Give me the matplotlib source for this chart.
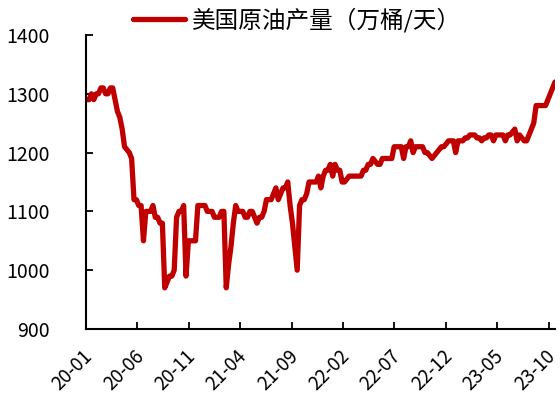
import numpy as np
import pandas as pd
import matplotlib
matplotlib.use("Agg")
import matplotlib.pyplot as plt
import matplotlib.dates as mdates
import matplotlib.transforms as mtransforms

plt.rcParams['font.family'] = ['Noto Sans CJK SC', 'DejaVu Sans']

# weekly US crude output, 10k bbl/day, Fridays from 2020-01-03
start = '2020-01-03'
output = [
    1290, 1290, 1300, 1290, 1300, 1300, 1310, 1310, 1300, 1300,
    1310, 1310, 1290, 1270, 1260, 1240, 1210, 1205, 1200, 1190,
    1120, 1120, 1110, 1110, 1050, 1100, 1100, 1100, 1110, 1090,
    1090, 1080, 1080, 970, 980, 990, 990, 1000, 1090, 1100,
    1100, 1110, 990, 1050, 1050, 1050, 1050, 1110, 1110, 1110,
    1110, 1100, 1100, 1100, 1090, 1090, 1090, 1100, 1100, 970,
    1010, 1040, 1080, 1110, 1100, 1100, 1100, 1090, 1090, 1100,
    1100, 1090, 1080, 1090, 1090, 1100, 1120, 1120, 1120, 1130,
    1140, 1120, 1130, 1140, 1140, 1150, 1110, 1080, 1040, 1000,
    1110, 1120, 1120, 1130, 1150, 1150, 1150, 1150, 1160, 1140,
    1160, 1170, 1170, 1180, 1160, 1180, 1170, 1170, 1150, 1150,
    1155, 1160, 1160, 1160, 1160, 1160, 1160, 1170, 1170, 1180,
    1180, 1190, 1185, 1180, 1180, 1190, 1190, 1190, 1190, 1190,
    1210, 1210, 1210, 1210, 1190, 1210, 1210, 1220, 1200, 1210,
    1210, 1210, 1210, 1200, 1200, 1195, 1190, 1195, 1200, 1205,
    1210, 1210, 1215, 1220, 1220, 1220, 1200, 1220, 1220, 1220,
    1225, 1225, 1230, 1230, 1230, 1225, 1225, 1220, 1225, 1225,
    1230, 1230, 1220, 1230, 1230, 1230, 1230, 1220, 1230, 1230,
    1235, 1240, 1220, 1230, 1225, 1220, 1220, 1230, 1240, 1250,
    1280, 1280, 1280, 1280, 1280, 1290, 1300, 1310, 1320,
]
label = '美国原油产量（万桶/天）'
yticks = [900, 1000, 1100, 1200, 1300, 1400]

dates = pd.date_range(start, periods=len(output), freq='7D')
xticks = pd.date_range('2020-01-01', '2023-10-01', freq='5MS')

fig = plt.figure(figsize=(5.6, 4.0), dpi=100)
ax = fig.add_axes([0.1536, 0.1775, 0.8375, 0.735])

ax.plot(dates, output, color='#C00000', lw=3.8, solid_joinstyle='round',
        solid_capstyle='round', label=label)

ax.set_ylim(900, 1400)
ax.set_yticks(yticks)
ax.set_xlim(pd.Timestamp('2020-01-01'), dates[-1])
ax.set_xticks(xticks)
ax.xaxis.set_major_formatter(mdates.DateFormatter('%y-%m'))

for s in ['top', 'right']:
    ax.spines[s].set_visible(False)
for s in ['left', 'bottom']:
    ax.spines[s].set_linewidth(1.5)
    ax.spines[s].set_color('black')

ax.tick_params(axis='both', direction='in', length=5, width=1.3)
ax.tick_params(axis='y', pad=26, labelsize=14)
ax.tick_params(axis='x', pad=10, labelsize=13.5)
# rotated date labels, pulled left a little so the last one fits
shift = mtransforms.ScaledTranslation(-3 / 72, -2 / 72, fig.dpi_scale_trans)
for t in ax.get_xticklabels():
    t.set_rotation(45)
    t.set_ha('right')
    t.set_va('top')
    t.set_rotation_mode('anchor')
    t.set_transform(t.get_transform() + shift)

fig.legend(loc='center', bbox_to_anchor=(0.53, 0.95), frameon=False,
           fontsize=17, handlelength=2.2, handletextpad=0.3)

plt.savefig('out.png', dpi=100)
